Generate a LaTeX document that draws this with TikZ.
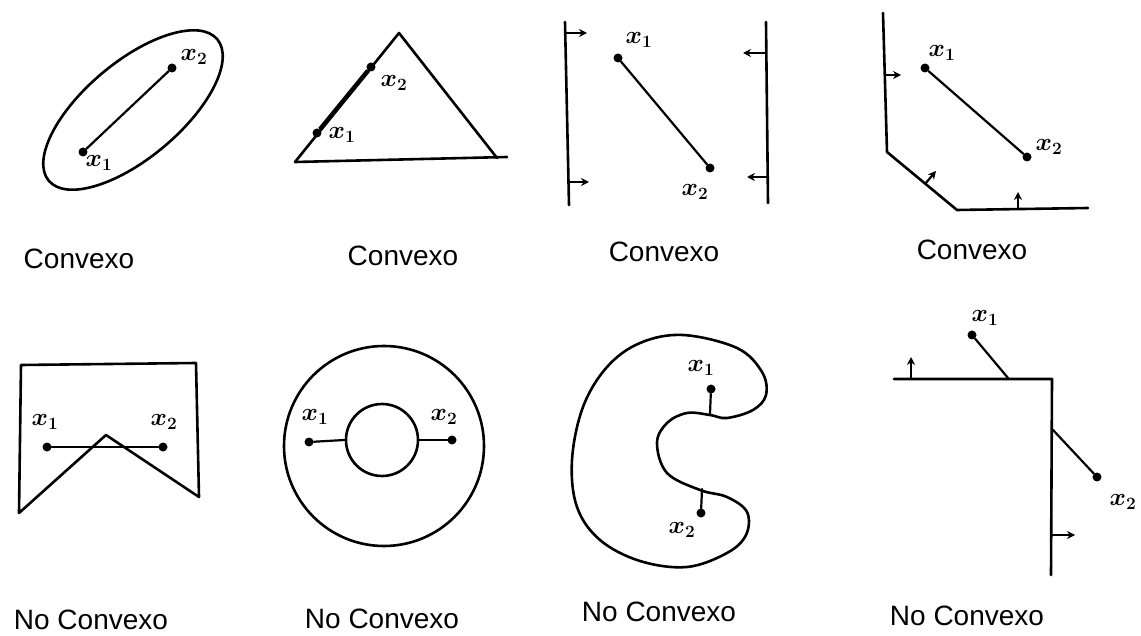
\documentclass[tikz,border=0pt]{standalone}
\usepackage{fontspec}
\setmainfont{Liberation Sans}
\usepackage{bm}
\usetikzlibrary{arrows.meta}
\tikzset{
  edge/.style={line width=2.6pt, line cap=round, line join=round},
  seg/.style={line width=2.2pt, line cap=round},
  dot/.style={circle, fill=black, inner sep=0pt, minimum size=9pt},
  pt/.style={font=\fontsize{27}{27}\selectfont, inner sep=0pt},
  caption/.style={font=\fontsize{28}{28}\selectfont, inner sep=0pt},
  arr/.style={line width=2.2pt, -{Stealth[length=8pt,width=8pt]}}
}
\begin{document}
\begin{tikzpicture}[x=1pt,y=-1pt]
\useasboundingbox (0,0) rectangle (1141,636);
% ---------- Panel 1: ellipse
\draw[edge, rotate around={40:(133,110)}] (133,110) ellipse [x radius=110, y radius=48];
\node[dot] (a1) at (83,152) {};
\node[dot] (a2) at (172,68) {};
\draw[seg] (a1) -- (a2);
\node[pt] (la1) at (99,163) {$\bm{x_1}$};
\node[pt] (la2) at (194,57) {$\bm{x_2}$};
\node[caption] (c1) at (79,259) {Convexo};
% ---------- Panel 2: triangle
\coordinate (t1) at (295,162);
\coordinate (t2) at (399,33);
\coordinate (t3) at (497,158);
\coordinate (t4) at (507,157);
\draw[edge] (t1) -- (t2) -- (t3);
\draw[edge] (t1) -- (t4);
\node[dot] (b1) at (317,133) {};
\node[dot] (b2) at (371,67) {};
\draw[line width=4.5pt] (b1) -- (b2);
\node[pt] (lb1) at (342,135) {$\bm{x_1}$};
\node[pt] (lb2) at (394,83) {$\bm{x_2}$};
\node[caption] (c2) at (403,256) {Convexo};
% ---------- Panel 3: two half planes
\coordinate (l1) at (565,22);
\coordinate (l2) at (569,205);
\coordinate (r1) at (766,22);
\coordinate (r2) at (768,203);
\draw[edge] (l1) -- (l2);
\draw[edge] (r1) -- (r2);
\coordinate (la) at (565,33); \coordinate (lae) at (587,33);
\coordinate (lb) at (569,182); \coordinate (lbe) at (589,182);
\coordinate (ra) at (766,53); \coordinate (rae) at (743,53);
\coordinate (rb) at (767,177); \coordinate (rbe) at (747,177);
\draw[arr] (la) -- (lae);
\draw[arr] (lb) -- (lbe);
\draw[arr] (ra) -- (rae);
\draw[arr] (rb) -- (rbe);
\node[dot] (d1) at (618,58) {};
\node[dot] (d2) at (710,168) {};
\draw[seg] (d1) -- (d2);
\node[pt] (ld1) at (639,40) {$\bm{x_1}$};
\node[pt] (ld2) at (695,192) {$\bm{x_2}$};
\node[caption] (c3) at (664,252) {Convexo};
% ---------- Panel 4: polyhedral region
\coordinate (q1) at (883,13);
\coordinate (q2) at (887,152);
\coordinate (q3) at (957,210);
\coordinate (q4) at (1088,208);
\draw[edge] (q1) -- (q2) -- (q3) -- (q4);
\coordinate (qa) at (886,75); \coordinate (qae) at (901,75);
\coordinate (qb) at (925,184); \coordinate (qbe) at (936,171);
\coordinate (qc) at (1018,208); \coordinate (qce) at (1018,192);
\draw[arr] (qa) -- (qae);
\draw[arr] (qb) -- (qbe);
\draw[arr] (qc) -- (qce);
\node[dot] (e1) at (925,68) {};
\node[dot] (e2) at (1027,157) {};
\draw[seg] (e1) -- (e2);
\node[pt] (le1) at (942,53) {$\bm{x_1}$};
\node[pt] (le2) at (1049,147) {$\bm{x_2}$};
\node[caption] (c4) at (972,250) {Convexo};
% ---------- Panel 5: notched pentagon
\coordinate (n1) at (21,365);
\coordinate (n2) at (196,363);
\coordinate (n3) at (199,497);
\coordinate (n4) at (106,435);
\coordinate (n5) at (19,513);
\draw[edge] (n1) -- (n2) -- (n3) -- (n4) -- (n5) -- cycle;
\node[dot] (f1) at (47,447) {};
\node[dot] (f2) at (163,447) {};
\draw[seg] (f1) -- (f2);
\node[pt] (lf1) at (45,422) {$\bm{x_1}$};
\node[pt] (lf2) at (164,422) {$\bm{x_2}$};
\node[caption] (c5) at (91,620) {No Convexo};
% ---------- Panel 6: annulus
\draw[edge] (384,446) circle [radius=100];
\node[circle, draw, line width=2.6pt, minimum size=72pt, inner sep=0pt] (hole) at (382,440) {};
\node[dot] (g1) at (309,442) {};
\node[dot] (g2) at (452,440) {};
\draw[seg] (g1) -- (hole.west);
\draw[seg] (g2) -- (hole.east);
\node[pt] (lg1) at (315,417) {$\bm{x_1}$};
\node[pt] (lg2) at (444,417) {$\bm{x_2}$};
\node[caption] (c6) at (382,619) {No Convexo};
% ---------- Panel 7: kidney shape
\draw[edge] plot[smooth cycle, tension=0.6] coordinates {
 (683,335) (737,348) (762,372) (766,395) (753,410) (727,418) (710,415) (687,413)
 (667,423) (657,443) (667,473) (700,490) (727,497) (747,512) (746,535)
 (727,553) (687,567) (640,561) (600,540) (577,507) (572,460) (583,407)
 (607,367) (640,343)};
\node[dot] (h1) at (711,389) {};
\coordinate (h1e) at (710,414);
\node[dot] (h2) at (701,513) {};
\coordinate (h2e) at (702,489);
\draw[seg] (h1) -- (h1e);
\draw[seg] (h2) -- (h2e);
\node[pt] (lh1) at (701,368) {$\bm{x_1}$};
\node[pt] (lh2) at (682,530) {$\bm{x_2}$};
\node[caption] (c7) at (659,612) {No Convexo};
% ---------- Panel 8: complement of a quadrant
\coordinate (m1) at (894,379);
\coordinate (m2) at (1052,379);
\coordinate (m3) at (1051,575);
\draw[edge] (m1) -- (m2) -- (m3);
\coordinate (ma) at (911,379); \coordinate (mae) at (911,357);
\coordinate (mb) at (1051,535); \coordinate (mbe) at (1075,535);
\draw[arr] (ma) -- (mae);
\draw[arr] (mb) -- (mbe);
\node[dot] (k1) at (972,335) {};
\coordinate (k1e) at (1008,378);
\node[dot] (k2) at (1097,477) {};
\coordinate (k2e) at (1053,430);
\draw[seg] (k1) -- (k1e);
\draw[seg] (k2) -- (k2e);
\node[pt] (lk1) at (985,318) {$\bm{x_1}$};
\node[pt] (lk2) at (1123,502) {$\bm{x_2}$};
\node[caption] (c8) at (967,616) {No Convexo};
\end{tikzpicture}
\end{document}
